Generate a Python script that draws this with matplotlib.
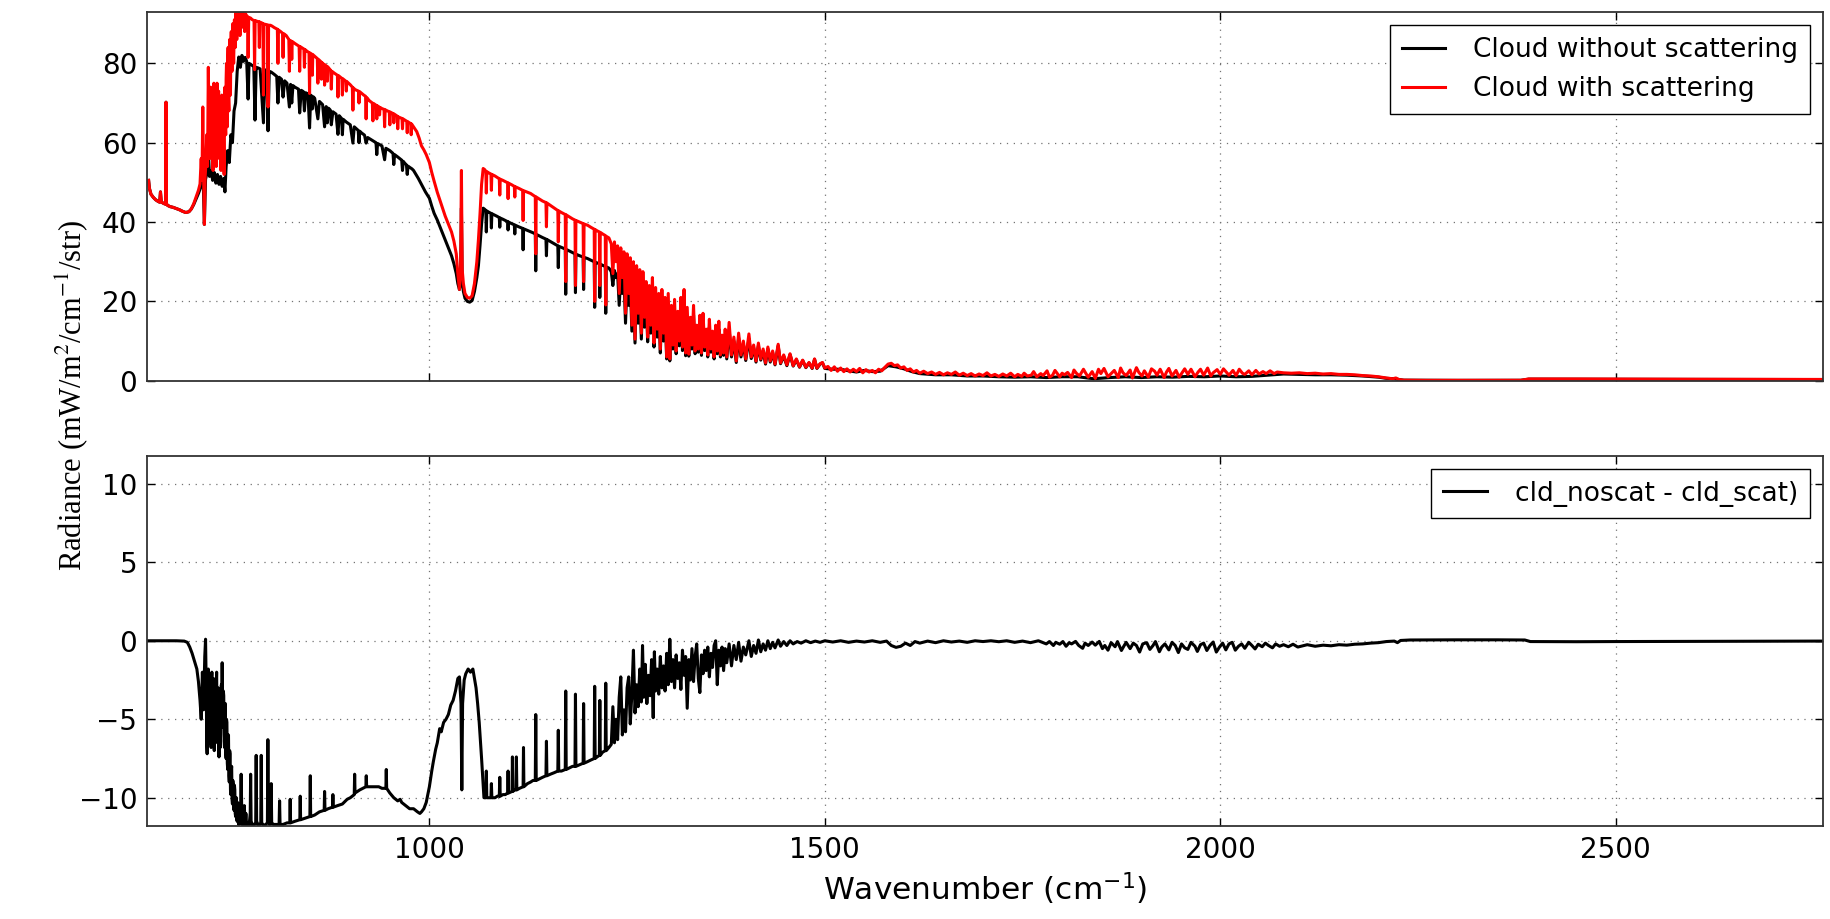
import matplotlib
matplotlib.use('Agg')
import matplotlib.pyplot as plt
import numpy as np

# values: (wavenumber cm-1, radiance)
# --- cloud with scattering (red) ---
scat_pts = [
    (645, 50.5), (646, 48.5), (648, 47.0), (651, 46.2), (654, 45.6), (657, 45.2), (659, 45.0),
    (660, 47.6), (661, 45.1), (663, 44.8), (665, 44.6), (666.5, 44.5), (667, 70.2), (667.5, 44.6),
    (669, 44.2), (672, 43.9), (676, 43.7), (680, 43.4), (684, 43.1), (688, 42.7), (692, 42.4),
    (696, 42.6), (699, 43.3), (702, 44.6), (705, 46.3), (708, 48.0), (710, 49.6), (711.5, 56),
    (712.5, 50.5), (713.5, 69), (714.5, 52), (715.5, 39.4), (716.5, 51.5), (717.5, 55), (718.5, 62),
    (719.5, 54), (720.5, 79), (721.5, 60),
    (722.5, 56), (723, 68), (723.5, 74), (724, 61), (724.5, 58), (725, 70), (725.5, 66), (726, 55),
    (726.5, 53), (727, 71), (727.5, 75), (728, 62), (728.5, 57), (729, 66), (729.5, 70), (730, 58),
    (730.5, 54), (731, 69), (731.5, 75), (732, 64), (732.5, 60), (733, 70), (733.5, 73), (734, 59),
    (734.5, 56), (735, 64), (735.5, 68), (736, 57), (736.5, 53), (737, 67), (737.5, 72), (738, 61),
    (738.5, 58), (739, 63), (739.5, 66), (740, 55), (740.5, 52), (741, 70), (741.5, 74), (742, 65),
    (742.5, 62), (743, 76), (743.5, 80), (744, 67), (744.5, 64), (745, 80), (745.5, 84), (746, 71),
    (746.5, 68), (747, 83), (747.5, 86), (748, 75), (748.5, 72), (749, 85), (749.5, 88), (750, 80),
    (750.5, 78), (751.5, 90), (752.5, 80), (753.5, 91), (754.5, 84), (755.5, 93), (756.5, 86),
    (757.5, 93.5), (758.5, 88), (759.5, 93), (760.5, 87), (761.5, 92.5), (762.5, 89), (763.5, 93),
    (764.5, 90), (765.5, 92.5), (766.5, 88), (767.5, 92.5),
    (769, 92), (770, 91.8), (770.8, 81.5), (771.6, 91.6), (774, 91.4), (776, 91), (778.3, 90.8),
    (779, 78.4), (779.7, 90.8), (782, 90.6), (784.4, 90.5), (785, 84), (785.6, 90.4), (788, 90.2),
    (789.5, 90), (790.2, 72), (790.9, 89.9), (793, 89.8), (795.3, 89.7), (796, 69), (796.7, 89.6),
    (799, 89.6), (801, 89.4), (804, 89), (807.8, 88.6), (808.5, 80), (809.2, 88.4), (812, 88),
    (814.3, 87.6), (815, 81.5), (815.7, 87.5), (819, 87), (822.3, 86), (823, 78), (823.7, 85.8),
    (825.4, 85.6), (826, 81), (826.6, 85.5), (830, 85), (833, 84.6), (835.3, 84.3), (836, 78),
    (836.7, 84.2), (840, 83.8), (841.4, 83.6), (842, 79), (842.6, 83.5), (845, 83.1), (847.8, 82.7),
    (848.5, 72.4), (849.2, 82.6), (851.4, 82.3), (852, 77), (852.6, 82.2), (856, 81.6), (858.3, 81.2),
    (859, 75), (859.7, 81), (862.9, 80.4), (863.5, 76), (864.1, 80.2), (866.8, 79.7), (867.5, 74.5),
    (868.2, 79.6), (870.4, 79.2), (871, 75.5), (871.6, 79.1), (875.3, 78.2), (876, 73.5),
    (876.7, 78), (880, 77.5), (883.7, 77), (884.4, 71.5), (885.1, 76.9), (889.4, 76.2), (890, 72),
    (890.6, 76.1), (894.4, 75.5), (895, 73), (895.6, 75.4), (900, 74.6), (902.6, 74), (903.3, 68.2),
    (904, 73.8), (906, 73.4), (910.4, 73), (911, 70), (911.6, 72.9), (914, 72.5), (917, 72),
    (919.3, 71.7), (920, 66), (920.7, 71.4), (924, 70.6), (927.9, 70), (928.6, 65.5), (929.3, 69.9),
    (932.9, 69.4), (933.5, 66), (934.1, 69.3), (936.4, 69), (937, 67), (937.6, 68.9), (940, 68.6),
    (942.7, 68.4), (943.4, 64), (944.1, 68.3), (947, 68), (949.3, 67.8), (950, 64.5), (950.7, 67.7),
    (954.4, 67.3), (955, 65), (955.6, 67.2), (959.3, 66.7), (960, 63.5), (960.7, 66.5),
    (965.4, 66.1), (966, 63.5), (966.6, 66), (971.4, 65.4), (972, 62.5), (972.6, 65.3),
    (976.4, 64.8), (977, 62), (977.6, 64.7), (980, 64), (984, 62.8), (987, 61.2), (990, 59.2),
    (993, 58.2), (996, 57), (1000, 55),
    (1003, 52.5), (1006, 50.3), (1010, 47.5), (1015, 44.5), (1020, 41.5), (1025, 39), (1028, 37.5),
    (1031, 35.2), (1034, 32), (1036, 27), (1038, 23), (1039.5, 28), (1040.5, 53), (1041.5, 28),
    (1043, 24.5), (1045, 22), (1048, 21), (1051, 20.8), (1054, 21.4), (1057, 24.5), (1060, 30),
    (1062, 35.5), (1064, 42), (1066, 49.5), (1068, 53.5),
    (1070, 53.2), (1071.4, 52.8), (1072, 47.3), (1072.6, 52.7), (1075, 52.4), (1077.8, 52.1),
    (1078.4, 48), (1079, 52), (1083, 51.6), (1086, 51.2), (1088.4, 50.9), (1089, 46.8), (1089.6, 50.8),
    (1093, 50.5), (1096, 50.2), (1098.9, 49.9), (1099.5, 45.9), (1100.1, 49.8), (1104, 49.4),
    (1107.4, 49), (1108, 46.3), (1108.6, 48.9), (1113, 48.5), (1117.9, 48), (1118.5, 40.4),
    (1119.1, 47.9), (1124, 47.5), (1128, 47.2), (1131, 46.8), (1133.9, 46.4), (1134.5, 32),
    (1135.1, 46.3), (1139, 45.8), (1143, 45.3), (1147.4, 44.9), (1148, 38.8), (1148.6, 44.8),
    (1153, 44.2), (1158, 43.5), (1162.4, 42.9), (1163, 35), (1163.6, 42.8), (1167, 42.4),
    (1171.8, 41.9), (1172.4, 25), (1173, 41.8), (1177, 41.3), (1181, 40.8), (1184.1, 40.5),
    (1184.7, 24), (1185.3, 40.4), (1190, 40), (1194.4, 39.6), (1195, 25), (1195.6, 39.5), (1200, 39.2),
    (1204, 38.7), (1208.4, 38.2), (1209, 20), (1209.6, 38.1), (1212, 37.8), (1214.9, 37.5),
    (1215.5, 24), (1216.1, 37.4), (1219, 37), (1222.4, 36.6), (1223, 19.1), (1223.6, 36.4), (1227, 36),
    (1230, 34.5), (1232, 27), (1234, 35), (1236, 30), (1238, 34), (1240, 22), (1242, 33.5), (1244, 26),
    (1246, 32.5), (1248, 17), (1250, 32), (1252, 22), (1254, 31), (1256, 14), (1258, 30), (1260, 10.5),
    (1262, 29), (1264, 17), (1266, 28), (1268, 12), (1270, 27.5), (1272, 16), (1274, 25), (1276, 11),
    (1278, 24), (1280, 14), (1282, 26), (1284, 9.5), (1286, 23.5), (1288, 13), (1290, 22), (1292, 8),
    (1294, 23), (1296, 12), (1298, 21), (1300, 6), (1302, 22), (1304, 5.5), (1306, 19), (1308, 9),
    (1310, 20.5), (1312, 7.5), (1314, 17.5), (1316, 10), (1318, 21), (1320, 8.5), (1322, 23), (1324, 7),
    (1326, 18.5), (1328, 6.7), (1330, 16), (1332, 9), (1334, 19), (1336, 7.5), (1338, 14), (1340, 8),
    (1342, 16.5), (1344, 7), (1346, 17), (1348, 8.5), (1350, 13), (1352, 6.5), (1354, 15.5), (1356, 8),
    (1358, 12.5), (1360, 6), (1362, 14), (1364, 7.5), (1366, 15), (1368, 6.5), (1370, 11.5), (1372, 7),
    (1374, 13), (1376, 6), (1379, 14.7), (1382, 6.5), (1385, 11), (1388, 5), (1391, 12), (1394, 6.5),
    (1397, 10), (1400, 5.5), (1404, 11.8), (1407, 6), (1410, 9), (1413, 5), (1416, 9.5), (1419, 5.5),
    (1422, 8), (1425, 4.5), (1428, 8.5), (1431, 5), (1434, 7.5), (1437, 4.2), (1441, 9.2), (1444, 4.5),
    (1448, 6.5), (1452, 4), (1456, 6.8), (1460, 3.8), (1464, 5.5), (1468, 3.5), (1472, 5.2),
    (1476, 3.4), (1480, 4.6), (1484, 3.2), (1487, 5.5), (1490, 3.2), (1494, 4.3), (1497, 4.6),
    (1500, 3.2),
    (1504, 3.6), (1508, 2.6), (1512, 3.5), (1516, 2.4), (1520, 3.2), (1524, 2.3), (1528, 3.0),
    (1532, 2.2), (1536, 2.9), (1540, 2.3), (1544, 3.1), (1548, 2.0), (1552, 2.8), (1556, 2.2),
    (1560, 2.6), (1564, 2.0), (1568, 2.9), (1572, 2.5), (1576, 3.4), (1580, 4.2), (1584, 4.4),
    (1588, 3.8), (1592, 4.0), (1596, 3.2), (1600, 3.5), (1604, 2.6), (1608, 3.0), (1612, 2.2),
    (1616, 2.6), (1620, 1.9), (1625, 2.4), (1630, 1.8), (1635, 2.2), (1640, 1.6), (1645, 2.1),
    (1650, 1.5), (1655, 2.0), (1660, 1.6), (1665, 2.2), (1670, 1.4), (1675, 1.9), (1680, 1.3),
    (1685, 1.8), (1690, 1.2), (1695, 1.7), (1700, 1.3), (1705, 2.0), (1710, 1.2), (1715, 1.6),
    (1720, 1.1), (1725, 1.7), (1730, 1.2), (1735, 1.9),
    (1740, 1.0), (1744, 1.6), (1749, 1.1), (1752, 1.9), (1756, 1.2), (1761, 1.4), (1764, 2.3),
    (1768, 1.0), (1773, 1.8), (1776, 1.3), (1781, 2.5), (1784, 0.9), (1788, 1.4), (1791, 2.6),
    (1797, 1.0), (1800, 1.9), (1803, 1.5), (1807, 2.1), (1812, 0.8), (1815, 2.7), (1818, 1.9),
    (1822, 1.2), (1827, 2.9), (1829, 2.2), (1833, 0.9), (1838, 2.3), (1842, 0.6), (1846, 2.9),
    (1849, 1.8), (1853, 3.1), (1858, 1.0), (1861, 1.6), (1866, 2.6), (1871, 0.8), (1874, 3.2),
    (1877, 2.0), (1881, 1.3), (1886, 2.7), (1889, 0.7), (1894, 3.3), (1897, 2.1), (1901, 1.2),
    (1904, 2.5), (1909, 0.9), (1913, 3.0), (1917, 2.4), (1920, 1.4), (1924, 2.9), (1929, 0.8),
    (1932, 2.2), (1935, 3.1), (1939, 1.2), (1944, 2.6), (1948, 0.9), (1951, 1.8), (1955, 3.0),
    (1959, 1.6), (1963, 2.9), (1968, 1.0), (1972, 2.2), (1975, 2.9), (1979, 1.4), (1984, 3.2),
    (1988, 1.2), (1991, 2.0), (1996, 2.8), (2000, 1.6), (2004, 3.0), (2008, 2.1), (2011, 1.4),
    (2016, 2.6), (2020, 1.3), (2024, 2.9), (2028, 1.9), (2031, 1.6), (2036, 2.5), (2040, 1.5),
    (2045, 2.6), (2049, 1.7), (2054, 2.3), (2058, 1.8), (2063, 2.5), (2068, 1.8), (2072, 2.2),
    (2080, 2.0), (2090, 1.9), (2100, 2.0), (2110, 1.8), (2120, 1.9), (2130, 1.7),
    (2140, 1.8), (2150, 1.6), (2160, 1.6), (2170, 1.5), (2180, 1.3), (2190, 1.2), (2200, 1.0),
    (2210, 0.7), (2218, 0.5), (2222, 0.7), (2226, 0.3), (2232, 0.15), (2260, 0.1), (2300, 0.1),
    (2340, 0.1), (2380, 0.12), (2390, 0.45), (2450, 0.45), (2500, 0.42), (2550, 0.4), (2600, 0.38),
    (2650, 0.36), (2700, 0.35), (2760, 0.33),
]

# --- cloud without scattering (black) ---
noscat_pts = [
    (645, 50.5), (646, 48.5), (648, 47.0), (651, 46.2), (654, 45.6), (657, 45.2), (659, 45.0),
    (660, 47.6), (661, 45.1), (663, 44.8), (665, 44.6), (666.5, 44.5), (667, 70.2), (667.5, 44.6),
    (669, 44.2), (672, 43.9), (676, 43.7), (680, 43.4), (684, 43.1), (688, 42.7), (692, 42.4),
    (696, 42.6), (699, 43.3), (702, 44.4), (705, 45.8), (708, 47.2), (710, 48.3), (712, 49.5),
    (714, 50.5), (715.5, 39.4), (717, 50.8), (719, 52.5), (720.5, 58), (722, 51.5), (724, 53),
    (726, 50.5), (728, 52.5), (730, 49.8), (732, 52), (734, 49.5), (736, 51.5), (738, 49), (740, 51),
    (741.5, 47.6), (743, 54), (745, 58), (747, 55), (749, 62), (751, 60), (753, 68), (755, 70),
    (757, 78), (759, 81.6), (761, 79), (763, 82), (765, 80.5), (767, 81.5),
    (769, 80.5), (770.8, 71), (772, 80), (775, 79.6), (778, 79.2), (779.5, 65.7), (781, 79),
    (784, 78.8), (786, 78.6), (790.2, 65), (791.5, 78.4), (794, 78.2), (796, 63), (797.5, 78),
    (800, 77.8), (804, 77.2), (807, 76.7), (808.5, 70), (810, 76.5), (813, 76), (815, 71.5),
    (817, 75.6), (820, 75), (823, 69), (824.5, 74.7), (826, 70), (827.5, 74.4), (830, 74),
    (834.5, 73.5), (836, 67.5), (838, 73.2), (840.5, 72.9), (842, 68), (843.5, 72.6), (846.5, 72.3),
    (848.5, 63.7), (850, 72), (851, 71.8), (852, 68.5), (853, 71.6), (855, 71.2), (859, 66),
    (861, 70.4), (865, 69.6), (867.5, 64), (869.5, 69.1), (871, 65), (872.5, 68.7), (874.8, 68.2),
    (876, 64.5), (878, 67.8), (882, 67.2), (884.4, 62.1), (886, 66.8), (889, 66.1), (890, 62),
    (891, 65.9), (895, 65.2), (900, 64.5), (903.3, 59.9), (905, 64), (910, 63.1), (911, 60),
    (912, 62.9), (914, 62.5), (918, 61.9), (920, 59.9), (922, 61.3), (926, 60.8), (930, 60.3),
    (932.5, 60), (933.5, 57), (934.5, 59.8), (940, 59.2), (943.4, 55.7), (945, 58.6), (950, 58),
    (954, 57.3), (955, 54.5), (956, 57), (960, 56.4), (965, 55.6), (966, 53), (967, 55.3),
    (969, 54.8), (971, 54.4), (972, 52), (973, 54.1), (975, 53.8), (978, 53.4), (980, 53),
    (983, 52), (986, 51), (990, 49.5), (995, 47.6), (1000, 46),
    (1003, 44), (1006, 42.2), (1010, 40.5), (1015, 38), (1020, 35.5), (1025, 33), (1028, 31.5),
    (1031, 29.5), (1034, 27), (1036, 24.5), (1038, 23), (1039.5, 25), (1040.5, 43.5), (1041.5, 25),
    (1043, 22.5), (1045, 20.8), (1048, 20), (1051, 19.8), (1054, 20.2), (1057, 22.5), (1060, 26),
    (1062, 29), (1064, 34), (1066, 39.5), (1068, 43.5),
    (1070, 43.2), (1071.4, 42.9), (1072, 37.5), (1072.6, 42.8), (1075, 42.5), (1077.8, 42.2),
    (1078.4, 38.5), (1079, 42.1), (1083, 41.7), (1086, 41.4), (1088.4, 41.1), (1089, 38.7),
    (1089.6, 41), (1093, 40.7), (1096, 40.4), (1098.9, 40.1), (1099.5, 38), (1100.1, 40),
    (1104, 39.6), (1107.4, 39.3), (1108, 37), (1108.6, 39.2), (1113, 38.8), (1117.9, 38.4),
    (1118.5, 33), (1119.1, 38.3), (1124, 37.9), (1128, 37.6), (1131, 37.3), (1133.9, 37),
    (1134.5, 27.7), (1135.1, 36.9), (1139, 36.5), (1143, 36.1), (1147.4, 35.7), (1148, 31.5),
    (1148.6, 35.6), (1153, 35.1), (1158, 34.5), (1162.4, 34), (1163, 28.5), (1163.6, 33.9),
    (1167, 33.6), (1171.8, 33.2), (1172.4, 21.8), (1173, 33.1), (1177, 32.7), (1181, 32.3),
    (1184.1, 32), (1184.7, 22.2), (1185.3, 31.9), (1190, 31.5), (1194.4, 31.2), (1195, 23),
    (1195.6, 31.1), (1200, 30.8), (1204, 30.4), (1208.4, 30), (1209, 18.5), (1209.6, 29.9),
    (1212, 29.7), (1214.9, 29.5), (1215.5, 21), (1216.1, 29.4), (1219, 29.1), (1222.4, 28.8),
    (1223, 17), (1223.6, 28.7), (1227, 28.4),
    (1230, 27.5), (1232, 24), (1234, 27.8), (1236, 26), (1238, 27), (1240, 19), (1242, 26.5),
    (1244, 22), (1246, 26), (1248, 14.5), (1250, 25.5), (1252, 19), (1254, 25), (1256, 12.5),
    (1258, 24.5), (1260, 9.5), (1262, 24), (1264, 14.5), (1266, 23), (1268, 10.5), (1270, 22.5),
    (1272, 13.5), (1274, 21.5), (1276, 9.8), (1278, 20.5), (1280, 12), (1282, 22), (1284, 8.5),
    (1286, 20), (1288, 11), (1290, 18.5), (1292, 7), (1294, 19.5), (1296, 10), (1298, 18), (1300, 5.5),
    (1302, 19), (1304, 5), (1306, 16), (1308, 8), (1310, 17.5), (1312, 6.8), (1314, 15), (1316, 8.8),
    (1318, 18), (1320, 7.6), (1322, 19.5), (1324, 6.3), (1326, 16), (1328, 6.2), (1330, 13.5),
    (1332, 8), (1334, 16.5), (1336, 6.8), (1338, 12), (1340, 7.2), (1342, 14.5), (1344, 6.4),
    (1346, 14.5), (1348, 7.6), (1350, 11.5), (1352, 6), (1354, 13.5), (1356, 7.2), (1358, 11),
    (1360, 5.5), (1362, 12.5), (1364, 6.8), (1366, 13), (1368, 6), (1370, 10.2), (1372, 6.4),
    (1374, 11.5), (1376, 5.5), (1379, 12.8), (1382, 6), (1385, 10), (1388, 4.6), (1391, 10.8),
    (1394, 6), (1397, 9.2), (1400, 5.1), (1404, 10.6), (1407, 5.6), (1410, 8.3), (1413, 4.7),
    (1416, 8.8), (1419, 5.2), (1422, 7.5), (1425, 4.2), (1428, 8), (1431, 4.7), (1434, 7.1),
    (1437, 4), (1441, 8.8), (1444, 4.3), (1448, 6.2), (1452, 3.8), (1456, 6.6), (1460, 3.7),
    (1464, 5.3), (1468, 3.4), (1472, 5.1), (1476, 3.3), (1480, 4.5), (1484, 3.1), (1487, 5.4),
    (1490, 3.1), (1494, 4.2), (1497, 4.5), (1500, 3.1),
    (1510, 2.9), (1520, 2.9), (1530, 2.5), (1540, 2.2), (1550, 2.6), (1560, 2.3), (1570, 2.4),
    (1580, 3.8), (1590, 3.5), (1600, 3.0), (1610, 2.3), (1620, 1.8), (1640, 1.5), (1660, 1.5),
    (1680, 1.2), (1700, 1.2), (1720, 1.0), (1740, 0.9), (1760, 1.0), (1780, 0.8), (1800, 1.0),
    (1820, 1.0), (1840, 0.5), (1860, 0.8), (1880, 1.0), (1900, 0.8), (1920, 1.0), (1940, 0.9),
    (1960, 1.1), (1980, 1.0), (2000, 1.2), (2020, 1.0), (2040, 1.1), (2060, 1.4), (2080, 1.7),
    (2100, 1.6), (2120, 1.5), (2140, 1.5), (2160, 1.4), (2180, 1.2), (2200, 0.9), (2210, 0.6),
    (2220, 0.5), (2226, 0.3), (2232, 0.15), (2300, 0.1), (2380, 0.12), (2390, 0.4), (2500, 0.38),
    (2600, 0.34), (2760, 0.3),
]

# --- cld_noscat - cld_scat (lower panel) ---
diff_pts = [
    (645, 0), (660, 0), (680, 0), (690, -0.02), (694, -0.1), (697, -0.4), (700, -0.8), (703, -1.3),
    (706, -1.8), (708, -2.6), (710, -3.8), (711.5, -5.0), (713, -2.0), (714.5, -4.4), (716, -1.0),
    (717, 0.1),
    (718, -3.5), (718.5, -6.5), (719, -7.2), (719.5, -3.0), (720, -4.6), (720.5, -1.8), (721, -5.8),
    (721.5, -2.4), (722, -6.5), (722.5, -3.1), (723, -2.2), (723.5, -6.0), (724, -6.8), (724.5, -2.6),
    (725, -2.0), (725.5, -5.0), (726, -5.5), (726.5, -3.3), (727, -2.4), (727.5, -6.4), (728, -7.0),
    (728.5, -3.8), (729, -2.6), (729.5, -5.6), (730, -6.2), (730.5, -2.9), (731, -2.0), (731.5, -4.9),
    (732, -6.5), (732.5, -4.0), (733, -3.0), (733.5, -6.1), (734, -7.4), (734.5, -4.6), (735, -3.5),
    (735.5, -6.8), (736, -6.0), (736.5, -3.6), (737, -2.8), (737.5, -5.1), (738, -1.4), (738.5, -4.4),
    (739, -5.5), (739.5, -3.2), (740, -3.5), (740.5, -6.4), (741, -6.8), (741.5, -4.1), (742, -4.0),
    (742.5, -7.1), (743, -7.5), (743.5, -5.0), (744, -5.2), (744.5, -7.8), (745, -8.2), (745.5, -6.4),
    (746, -6.0), (746.5, -8.6), (747, -9.0), (747.5, -7.0), (748, -7.2), (748.5, -9.5), (749, -9.8),
    (749.5, -8.3), (750, -8.0), (750.5, -10.1), (751, -10.4), (751.5, -8.9), (752, -9.2),
    (752.5, -10.6), (753, -10.8), (753.5, -9.2), (754, -9.5), (754.5, -11.0), (755, -11.2),
    (755.5, -10.2), (756, -10.0), (756.5, -11.4), (757, -11.5), (757.5, -10.3), (758, -10.5),
    (758.5, -11.6), (759, -11.7), (760, -10.8), (761, -11.6), (762, -8.5), (763, -11.7),
    (764, -11.0), (765, -11.8), (766, -10.5), (767, -11.7), (768, -11.0), (769, -11.8),
    (770, -11.6), (772, -11.8), (773.5, -11.0), (774, -8.5), (774.6, -11.5), (777, -11.8),
    (780.4, -11.6), (781, -7.3), (781.6, -11.5), (784, -11.8), (786.8, -11.6), (787.4, -7.3),
    (788, -11.6), (791, -11.8), (793, -11.7), (795.2, -11.6), (795.8, -6.3), (796.4, -11.5),
    (798, -11.7), (799.4, -11.6), (800, -9.1), (800.6, -11.6), (803, -11.7), (806, -11.7),
    (810, -11.7), (810.6, -10.2), (811.2, -11.7), (815, -11.7), (820, -11.6), (823.5, -11.6),
    (824, -10.1), (824.5, -11.6), (830, -11.5), (836.2, -11.4), (836.7, -9.9), (837.2, -11.4),
    (843, -11.3), (848.9, -11.2), (849.4, -8.6), (849.9, -11.2), (855, -11.1), (861, -10.9),
    (867, -10.8), (867.5, -9.6), (868, -10.8), (872, -10.7), (877.5, -10.6), (878, -9.8),
    (878.5, -10.6), (884, -10.5), (890, -10.4), (896, -10.1), (900, -10.0), (905, -9.8),
    (905.5, -8.5), (906, -9.7), (912, -9.5), (916, -9.4), (919.7, -9.3), (920.2, -8.6),
    (920.7, -9.3), (925, -9.3), (930, -9.3), (936, -9.3), (940, -9.4), (945, -9.4), (945.5, -8.2),
    (946, -9.4), (950, -9.7), (955, -10.0), (960, -10.2), (963, -10.1), (965, -10.3), (970, -10.5),
    (975, -10.7), (980, -10.7), (985, -10.9), (988, -11.0), (990, -10.9), (993, -10.7),
    (996, -10.3), (1000, -9.3),
    (1003, -8.3), (1005, -7.7), (1008, -6.9), (1010, -6.5), (1013, -5.6), (1015, -5.8), (1018, -5.2),
    (1021, -5.0), (1024, -4.7), (1027, -4.1), (1030, -3.8), (1033, -3.2), (1036, -2.4),
    (1038, -2.3), (1040, -4.0), (1041, -9.5), (1042, -4.0), (1044, -2.5), (1046, -2.1),
    (1049, -1.8), (1052, -2.0), (1055, -1.8), (1057, -2.4), (1059, -3.0), (1061, -4.0),
    (1063, -5.2), (1066, -7.5), (1069, -10.0), (1070, -10.0),
    (1071.4, -10.0), (1072, -8.3), (1072.6, -10.0), (1075, -10.0), (1077.8, -10.0), (1078.4, -9.1),
    (1079, -10.0), (1083, -10.0), (1086, -9.9), (1088.4, -9.9), (1089, -8.7), (1089.6, -9.9),
    (1093, -9.8), (1096, -9.8), (1098.9, -9.7), (1099.5, -8.3), (1100.1, -9.7), (1104.5, -9.6),
    (1105, -7.4), (1105.5, -9.6), (1108, -9.5), (1109.5, -9.5), (1110, -7.4), (1110.6, -9.5),
    (1114, -9.4), (1118.5, -9.3), (1119, -6.8), (1119.5, -9.3), (1124, -9.1), (1128, -9.0),
    (1131, -8.9), (1133.9, -8.9), (1134.5, -4.7), (1135.1, -8.9), (1139, -8.8), (1143, -8.7),
    (1147.4, -8.6), (1148, -6.4), (1148.6, -8.6), (1153, -8.5), (1158, -8.4), (1162.4, -8.3),
    (1163, -5.7), (1163.6, -8.3), (1167, -8.3), (1171.8, -8.2), (1172.4, -3.2), (1173, -8.2),
    (1177, -8.1), (1181, -8.0), (1184.1, -8.0), (1184.7, -3.4), (1185.3, -8.0), (1190, -7.9),
    (1194.4, -7.8), (1195, -4.0), (1195.6, -7.8), (1200, -7.7), (1204, -7.6), (1208.4, -7.5),
    (1209, -2.9), (1209.6, -7.5), (1212, -7.4), (1214.9, -7.3), (1215.5, -3.8), (1216.1, -7.3),
    (1219, -7.1), (1222.4, -7.0), (1223, -2.7), (1223.6, -7.0), (1227, -6.8),
    (1230, -6.6), (1232, -4.2), (1234, -6.5), (1236, -5.0), (1238, -6.3), (1240, -3.6), (1242, -2.3),
    (1244, -6.0), (1246, -4.4), (1248, -5.8), (1250, -3.0), (1252, -2.3), (1254, -5.3), (1256, -3.4),
    (1258, -0.6), (1260, -4.6), (1262, -2.8), (1264, -4.2), (1266, -1.8), (1268, -3.9),
    (1269.5, -0.3), (1271, -3.6), (1273, -1.5), (1275, -4.0), (1277, -2.2), (1279, -3.5),
    (1281, -1.2), (1283, -4.9), (1284.5, -0.7), (1286, -3.2), (1288, -1.8), (1290, -3.4),
    (1292, -1.0), (1294, -3.0), (1296, -1.6), (1298, -3.2), (1300, -0.8), (1302, -2.8), (1304, 0.1),
    (1306, -2.6), (1308, -1.2), (1310, -3.0), (1312, -0.9), (1314, -2.4), (1316, -1.4), (1318, -3.1),
    (1320, -0.6), (1322, -2.2), (1324, -1.0), (1326, -4.3), (1328, -1.2), (1330, -2.5), (1332, -0.5),
    (1334, -2.6), (1336, -1.0), (1338, -0.2), (1340, -2.4), (1342, -3.3), (1344, -0.9), (1346, -2.1),
    (1348, -0.6), (1350, -1.9), (1352, -0.4), (1354, -2.3), (1356, -0.8), (1358, -1.7), (1360, -0.3),
    (1362, 0.0), (1364, -2.8), (1366, -0.6), (1368, -1.6), (1370, -0.4), (1372, -1.9), (1374, -0.5),
    (1376, -1.4), (1379, -0.2), (1382, -1.6), (1385, -0.3), (1388, -1.2), (1391, -0.1), (1394, -1.3),
    (1397, -0.4), (1400, -0.9), (1404, 0.0), (1407, -1.0), (1410, -0.3), (1413, -0.8), (1416, 0.05),
    (1419, -0.7), (1422, -0.2), (1425, -0.6), (1428, 0.0), (1431, -0.5), (1434, -0.1), (1437, -0.45),
    (1441, 0.05), (1444, -0.35), (1448, -0.05), (1452, -0.3), (1456, 0.0), (1460, -0.2),
    (1465, -0.05), (1470, -0.15), (1476, 0.0), (1482, -0.12), (1488, -0.02), (1494, -0.1),
    (1500, 0.0), (1510, -0.08), (1520, 0.0), (1530, -0.1), (1540, -0.02), (1550, -0.08), (1560, 0.0),
    (1570, -0.1), (1578, -0.02), (1584, -0.3), (1590, -0.42), (1596, -0.35), (1602, -0.15),
    (1608, -0.3), (1614, -0.05), (1620, -0.15), (1630, -0.02), (1640, -0.12), (1650, 0.0),
    (1660, -0.08), (1670, -0.02), (1680, -0.1), (1690, 0.0), (1700, -0.05), (1710, 0.0),
    (1720, -0.06), (1730, 0.0), (1740, -0.1), (1750, -0.02), (1760, -0.12), (1770, 0.0),
    (1780, -0.2), (1784, -0.05), (1789, -0.3), (1792, -0.1), (1797, -0.22), (1801, -0.05),
    (1805, -0.35), (1809, -0.12), (1812, -0.2), (1817, -0.04), (1821, -0.3), (1826, -0.48),
    (1829, -0.15), (1833, -0.3), (1838, -0.08), (1842, -0.28), (1847, -0.04), (1851, -0.5),
    (1854, -0.3), (1858, -0.6), (1862, -0.12), (1867, -0.38), (1870, -0.05), (1875, -0.62),
    (1878, -0.35), (1881, -0.1), (1886, -0.5), (1890, -0.15), (1894, -0.3), (1898, -0.72),
    (1902, -0.2), (1907, -0.12), (1911, -0.55), (1915, -0.3), (1918, -0.05), (1923, -0.7),
    (1926, -0.4), (1930, -0.2), (1935, -0.58), (1939, -0.1), (1943, -0.3), (1947, -0.75),
    (1951, -0.2), (1955, -0.45), (1959, -0.55), (1963, -0.1), (1968, -0.35), (1971, -0.68),
    (1975, -0.25), (1979, -0.15), (1983, -0.62), (1987, -0.3), (1991, -0.08), (1995, -0.72),
    (1999, -0.4), (2003, -0.15), (2007, -0.58), (2011, -0.2), (2015, -0.1), (2019, -0.6),
    (2023, -0.35), (2027, -0.2), (2031, -0.48), (2036, -0.1), (2040, -0.3), (2044, -0.52),
    (2048, -0.22), (2053, -0.38), (2057, -0.15), (2061, -0.3), (2066, -0.45), (2070, -0.2),
    (2075, -0.35), (2080, -0.25), (2086, -0.38), (2092, -0.22), (2098, -0.4),
    (2110, -0.25), (2120, -0.35), (2130, -0.28), (2140, -0.32), (2150, -0.25), (2160, -0.28),
    (2170, -0.22), (2180, -0.2), (2190, -0.15), (2200, -0.12), (2210, -0.05), (2220, -0.02),
    (2224, -0.12), (2228, 0.02), (2240, 0.05), (2300, 0.06), (2350, 0.06), (2385, 0.05),
    (2392, -0.05), (2450, -0.06), (2500, -0.05), (2600, -0.04), (2700, -0.03), (2760, -0.02),
]

x_ticks = [1000, 1500, 2000, 2500]
top_yticks = [0, 20, 40, 60, 80]
bot_yticks = [-10, -5, 0, 5, 10]

wn_scat, rad_scat = np.array(scat_pts).T
wn_noscat, rad_noscat = np.array(noscat_pts).T
wn_diff, rad_diff = np.array(diff_pts).T

plt.rcParams['font.family'] = 'DejaVu Sans'
plt.rcParams['mathtext.fontset'] = 'dejavusans'

fig = plt.figure(figsize=(18.31, 9.19), dpi=100)
ax1 = fig.add_axes([0.0803, 0.5857, 0.9153, 0.4015])
ax2 = fig.add_axes([0.0803, 0.1012, 0.9153, 0.4031], sharex=ax1)

grid_kw = dict(color='0.45', linestyle=(0, (1, 4.5)), linewidth=0.9)
leg_kw = dict(loc='upper right', fontsize=19, fancybox=False, framealpha=1, edgecolor='k',
              handlelength=1.65, handletextpad=1.05, borderpad=0.45, borderaxespad=0.5)

ax1.plot(wn_noscat, rad_noscat, color='k', lw=2.2, label='Cloud without scattering')
ax1.plot(wn_scat, rad_scat, color='r', lw=2.2, label='Cloud with scattering')
ax1.set_ylim(0, 93)
ax1.set_yticks(top_yticks)
ax1.legend(labelspacing=0.5, **leg_kw)

ax2.plot(wn_diff, rad_diff, color='k', lw=2.2, label='cld_noscat - cld_scat)')
ax2.set_ylim(-11.8, 11.8)
ax2.set_yticks(bot_yticks)
ax2.legend(**leg_kw)

ax2.set_xlim(643, 2762)
ax2.set_xticks(x_ticks)
ax2.set_xlabel('Wavenumber (cm$^{-1}$)', fontsize=22.5, labelpad=5)

for ax in (ax1, ax2):
    ax.grid(True, **grid_kw)
    ax.tick_params(direction='in', top=True, right=True, length=6, width=1,
                   labelsize=20, pad=7)
    for sp in ax.spines.values():
        sp.set_linewidth(1.3)
        sp.set_color('0.2')
plt.setp(ax1.get_xticklabels(), visible=False)

fig.text(0.039, 0.57, r'Radiance (mW/m$^2$/cm$^{-1}$/str)', rotation=90,
         ha='center', va='center', fontsize=22, family='Liberation Serif',
         math_fontfamily='stix')

fig.savefig('out.png', dpi=100, facecolor='white')
